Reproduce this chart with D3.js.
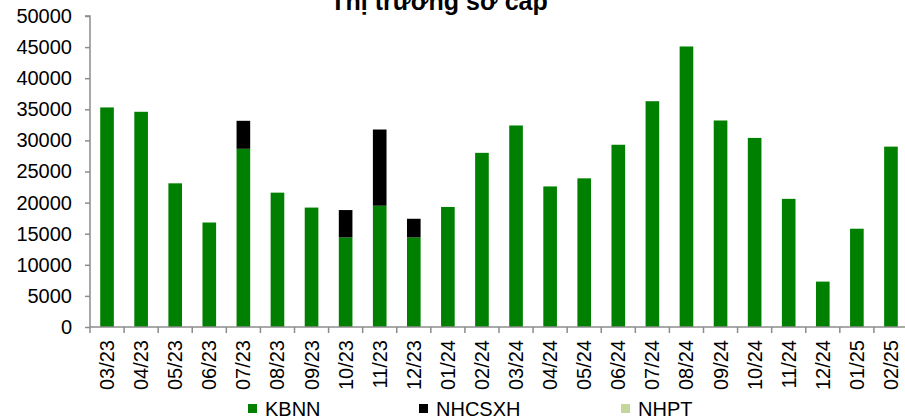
<!DOCTYPE html>
<html>
<head>
<meta charset="utf-8">
<script src="https://cdn.jsdelivr.net/npm/d3@7"></script>
<style>
  html, body { margin: 0; padding: 0; background: #fff; }
  svg { display: block; font-family: "Liberation Sans", Arial, sans-serif; }
</style>
</head>
<body>
<svg id="chart" width="905" height="416"></svg>
<script>
const title = "Thị trường sơ cấp";
const categories = ["03/23","04/23","05/23","06/23","07/23","08/23","09/23","10/23","11/23","12/23",
  "01/24","02/24","03/24","04/24","05/24","06/24","07/24","08/24","09/24","10/24","11/24","12/24","01/25","02/25"];
const kbnn   = [35300,34600,23100,16800,28650,21600,19200,14400,19500,14400,
  19300,28000,32400,22600,23900,29300,36300,45100,33200,30400,20600,7300,15800,29000];
const nhcsxh = [0,0,0,0,4500,0,0,4400,12250,3000,
  0,0,0,0,0,0,0,0,0,0,0,0,0,0];
const nhpt   = [0,0,0,0,0,0,0,0,0,0,
  0,0,0,0,0,0,0,0,0,0,0,0,0,0];
const seriesNames = ["KBNN","NHCSXH","NHPT"];
const seriesColors = ["#008000","#000000","#c3d69b"];
const yTicks = [0,5000,10000,15000,20000,25000,30000,35000,40000,45000,50000];

const svg = d3.select("#chart");
const axisColor = "#8c8c8c";

const x = d3.scaleBand().domain(categories).range([90, 908]).paddingInner(0.6).paddingOuter(0.3);
const y = d3.scaleLinear().domain([0, 50000]).range([327, 16]);

// stacked data
const table = categories.map((c, i) => ({cat: c, KBNN: kbnn[i], NHCSXH: nhcsxh[i], NHPT: nhpt[i]}));
const stack = d3.stack().keys(seriesNames)(table);
const color = d3.scaleOrdinal().domain(seriesNames).range(seriesColors);

svg.append("g").selectAll("g").data(stack).join("g")
  .attr("fill", d => color(d.key))
  .selectAll("rect").data(d => d.filter(p => p[1] - p[0] > 0)).join("rect")
  .attr("x", d => x(d.data.cat))
  .attr("width", x.bandwidth())
  .attr("y", d => y(d[1]))
  .attr("height", d => y(d[0]) - y(d[1]));

// Y axis
const yAxis = svg.append("g").attr("transform", "translate(90,0)")
  .call(d3.axisLeft(y).tickValues(yTicks).tickSize(5).tickPadding(13).tickFormat(d3.format("d")));
yAxis.select(".domain").attr("stroke", axisColor).attr("stroke-width", 1.5).attr("d", `M-5,${y(50000)}H0V${y(0)}`);
yAxis.selectAll(".tick line").attr("stroke", axisColor).attr("stroke-width", 1.5);
yAxis.selectAll(".tick text").attr("fill", "#000").style("font-size", "20px");

// X axis
const step = x.step();
const xg = svg.append("g");
xg.append("line").attr("x1", 90).attr("x2", 908).attr("y1", y(0)).attr("y2", y(0))
  .attr("stroke", axisColor).attr("stroke-width", 1.5);
const bounds = categories.map(c => x(c) + x.bandwidth() / 2 - step / 2);
bounds.push(x(categories[categories.length - 1]) + x.bandwidth() / 2 + step / 2);
xg.selectAll("line.xt").data(bounds).join("line").attr("class", "xt")
  .attr("x1", d => d).attr("x2", d => d).attr("y1", y(0)).attr("y2", y(0) + 6)
  .attr("stroke", axisColor).attr("stroke-width", 1.5);
xg.selectAll("text").data(categories).join("text")
  .attr("transform", d => `translate(${x(d) + x.bandwidth() / 2},340) rotate(-90)`)
  .attr("text-anchor", "end").attr("dy", "0.35em")
  .style("font-size", "20px").attr("fill", "#000")
  .text(d => d);

// Title
svg.append("text").attr("x", 439).attr("y", 9.5).attr("text-anchor", "middle")
  .style("font-size", "25px").style("font-weight", "bold").attr("fill", "#000").text(title);

// Legend
const legendX = [248, 419, 621];
const lg = svg.append("g").selectAll("g").data(seriesNames).join("g")
  .attr("transform", (d, i) => `translate(${legendX[i]},404)`);
lg.append("rect").attr("width", 9).attr("height", 9).attr("fill", d => color(d));
lg.append("text").attr("x", 17).attr("y", 11.5).style("font-size", "20px").attr("fill", "#000").text(d => d);
</script>
</body>
</html>
